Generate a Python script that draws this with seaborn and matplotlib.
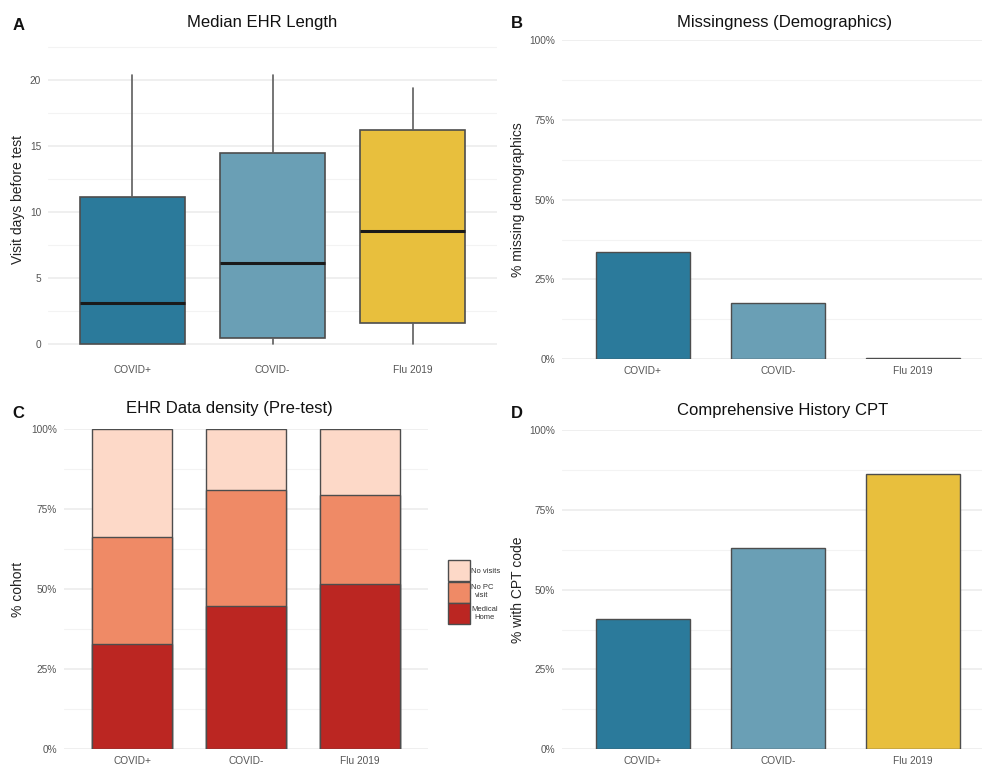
import matplotlib
matplotlib.use("Agg")
import matplotlib.pyplot as plt
from matplotlib.patches import Patch
from matplotlib.ticker import PercentFormatter, MultipleLocator
import pandas as pd
import seaborn as sns

cohorts = ["COVID+", "COVID-", "Flu 2019"]
cohort_colors = ["#2b7a9b", "#6a9fb5", "#e8bf3d"]

# A - visit days before test (box stats)
box_lo = [0.0, 0.0, 0.0]
box_q1 = [0.0, 0.45, 1.6]
box_med = [3.1, 6.15, 8.55]
box_q3 = [11.1, 14.45, 16.2]
box_hi = [20.4, 20.4, 19.4]

# B - % missing demographics
missing_pct = [33.6, 17.5, 0.4]

# C - EHR data density, stacked segments (%)
medical_home = [32.9, 44.9, 51.7]
no_pc_visit = [33.5, 36.0, 27.7]
no_visits = [33.6, 19.1, 20.6]
density_labels = ["No visits", "No PC\nvisit", "Medical\nHome"]
density_colors = ["#fdd9c8", "#ef8a66", "#bb2622"]

# D - % with comprehensive history CPT code
cpt_pct = [40.9, 63.0, 86.1]

sns.set_theme(style="white")
plt.rcParams["font.family"] = ["Liberation Sans", "DejaVu Sans"]

W, H = 982, 766
fig = plt.figure(figsize=(W / 100, H / 100), dpi=100)

def px_axes(left, right, top, bottom):
    return fig.add_axes([left / W, 1 - bottom / H, (right - left) / W, (bottom - top) / H])

edge = "#4d4d4d"
tick_col = "#555555"

def style(ax, major, minor):
    ax.yaxis.set_major_locator(MultipleLocator(major))
    ax.yaxis.set_minor_locator(MultipleLocator(minor))
    ax.grid(which="major", axis="y", color="#ebebeb", lw=1.1)
    ax.grid(which="minor", axis="y", color="#f3f3f3", lw=0.8)
    ax.grid(which="major", axis="x", visible=False)
    ax.set_axisbelow(True)
    sns.despine(ax=ax, left=True, bottom=True)
    ax.tick_params(which="both", length=0, labelsize=7.3, labelcolor=tick_col)
    ax.tick_params(axis="y", pad=5)
    ax.tick_params(axis="x", pad=5)
    ax.set_xlim(-0.6, 2.6)
    ax.set_xlabel("")
    ax.set_ylabel("")

# ---- A: boxplot
axA = px_axes(48, 497, 40, 358)
stats = []
for i, c in enumerate(cohorts):
    stats.append(dict(label=c, whislo=box_lo[i], q1=box_q1[i], med=box_med[i],
                      q3=box_q3[i], whishi=box_hi[i], fliers=[]))
bp = axA.bxp(stats, positions=[0, 1, 2], widths=0.75, patch_artist=True,
             showfliers=False, showcaps=False,
             boxprops=dict(edgecolor=edge, linewidth=1.2),
             whiskerprops=dict(color="#5e5e5e", linewidth=1.2),
             medianprops=dict(color="#1a1a1a", linewidth=2.2))
for patch, col in zip(bp["boxes"], cohort_colors):
    patch.set_facecolor(col)
style(axA, 5, 2.5)
axA.set_ylim(-1.06, 23.03)
axA.set_xticks([0, 1, 2], cohorts)

# ---- B: missing demographics
axB = px_axes(562, 994, 40, 359.3)
dfB = pd.DataFrame({"cohort": cohorts, "pct": missing_pct})
sns.barplot(data=dfB, x="cohort", y="pct", hue="cohort", palette=cohort_colors,
            saturation=1, width=0.7, edgecolor=edge, linewidth=1.0,
            legend=False, ax=axB)
style(axB, 25, 12.5)
axB.set_ylim(0, 100)
axB.yaxis.set_major_formatter(PercentFormatter(100, decimals=0))

# ---- C: stacked density
axC = px_axes(64, 428.3, 429.3, 749.3)
layer_tops = [
    [m + n + v for m, n, v in zip(medical_home, no_pc_visit, no_visits)],
    [m + n for m, n in zip(medical_home, no_pc_visit)],
    medical_home,
]
for tops, col in zip(layer_tops, density_colors):
    sns.barplot(x=cohorts, y=tops, color=col, saturation=1, width=0.7,
                edgecolor=edge, linewidth=1.0, ax=axC)
style(axC, 25, 12.5)
axC.set_ylim(0, 100)
axC.yaxis.set_major_formatter(PercentFormatter(100, decimals=0))

handles = [Patch(facecolor=c, edgecolor=edge, linewidth=1.0, label=l)
           for c, l in zip(density_colors, density_labels)]
leg = fig.legend(handles=handles, loc="upper left",
                 bbox_to_anchor=(448 / W, 1 - 560 / H), frameon=False,
                 fontsize=5.5, handlelength=2.9, handleheight=3.85,
                 labelspacing=0.08, handletextpad=0.1, borderpad=0,
                 borderaxespad=0)
for t in leg.get_texts():
    t.set_multialignment("center")
    t.set_color("#333333")

# ---- D: CPT code
axD = px_axes(562, 994, 430, 749.3)
dfD = pd.DataFrame({"cohort": cohorts, "pct": cpt_pct})
sns.barplot(data=dfD, x="cohort", y="pct", hue="cohort", palette=cohort_colors,
            saturation=1, width=0.7, edgecolor=edge, linewidth=1.0,
            legend=False, ax=axD)
style(axD, 25, 12.5)
axD.set_ylim(0, 100)
axD.yaxis.set_major_formatter(PercentFormatter(100, decimals=0))

# titles, panel letters, axis titles
def ftext(x, y, s, **kw):
    fig.text(x / W, 1 - y / H, s, ha="center", va="center", **kw)

ftext(262, 23, "Median EHR Length", fontsize=12, color="#111111")
ftext(785, 22, "Missingness (Demographics)", fontsize=12, color="#111111")
ftext(229, 408, "EHR Data density (Pre-test)", fontsize=12, color="#111111")
ftext(783, 410, "Comprehensive History CPT", fontsize=12, color="#111111")

for x, y, s in [(19, 25, "A"), (517, 23, "B"), (18.5, 414, "C"), (517, 413, "D")]:
    ftext(x, y, s, fontsize=12, fontweight="bold", color="#111111")

ftext(18, 199, "Visit days before test", fontsize=10, rotation=90, color="#222222")
ftext(518, 200, "% missing demographics", fontsize=10, rotation=90, color="#222222")
ftext(18, 589, "% cohort", fontsize=10, rotation=90, color="#222222")
ftext(518, 590, "% with CPT code", fontsize=10, rotation=90, color="#222222")

fig.savefig("out.png", dpi=100, facecolor="white")
